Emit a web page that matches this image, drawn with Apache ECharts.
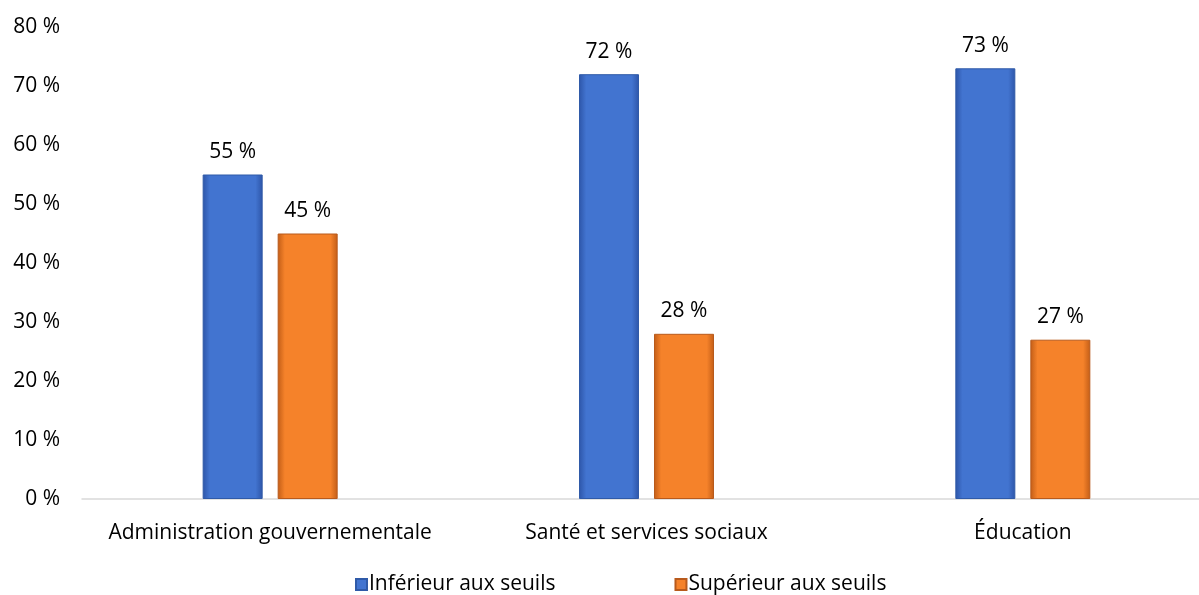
<!DOCTYPE html>
<html><head><meta charset="utf-8">
<script src="https://cdn.jsdelivr.net/npm/echarts@6/dist/echarts.min.js"></script>
<style>html,body{margin:0;padding:0;background:#fff}#c{width:1199px;height:595px}</style>
</head><body><div id="c"></div>
<script>
const categories = ['Administration gouvernementale', 'Santé et services sociaux', 'Éducation'];
const inferieur = [55, 72, 73];
const superieur = [45, 28, 27];
const seriesNames = ['Inférieur aux seuils', 'Supérieur aux seuils'];

function grad(edge, mid) {
  return new echarts.graphic.LinearGradient(0, 0, 1, 0, [
    {offset: 0, color: edge}, {offset: 0.12, color: mid}, {offset: 0.88, color: mid}, {offset: 1, color: edge}
  ]);
}
const font = '"Open Sans", sans-serif';
const fs = 21;
const chart = echarts.init(document.getElementById('c'));
chart.setOption({
  animation: false,
  textStyle: {fontFamily: font},
  grid: {left: 82, top: 27, right: -12, bottom: 96, containLabel: false, outerBoundsMode: 'none'},
  legend: {
    left: 355, top: 574, padding: 0, itemWidth: 11, itemHeight: 11, itemGap: 119,
    icon: 'rect',
    textStyle: {fontSize: fs, color: '#000', fontFamily: font, padding: [0,0,0,-3]},
    data: seriesNames
  },
  xAxis: {
    type: 'category', data: categories,
    axisLine: {lineStyle: {color: '#d9d9d9', width: 1.5}},
    axisTick: {show: false},
    axisLabel: {fontSize: fs, color: '#000', margin: 24, fontFamily: font, interval: 0, hideOverlap: false}
  },
  yAxis: {
    type: 'value', min: 0, max: 80, interval: 10,
    axisLine: {show: false}, axisTick: {show: false},
    splitLine: {show: false},
    axisLabel: {fontSize: fs, color: '#000', margin: 22, formatter: v => v + ' %', fontFamily: font}
  },
  series: [
    {
      name: seriesNames[0], type: 'bar', data: inferieur, barWidth: 60, barGap: '25%',
      itemStyle: {color: grad('#2d55a8', '#4274d0'), borderColor: '#2f5aa8', borderWidth: 1},
      label: {show: true, position: 'top', distance: 12, fontSize: fs, color: '#000', formatter: p => p.value + ' %', fontFamily: font}
    },
    {
      name: seriesNames[1], type: 'bar', data: superieur, barWidth: 60,
      itemStyle: {color: grad('#c25d17', '#f5822a'), borderColor: '#b85a1c', borderWidth: 1},
      label: {show: true, position: 'top', distance: 12, fontSize: fs, color: '#000', formatter: p => p.value + ' %', fontFamily: font}
    }
  ]
});
</script></body></html>
